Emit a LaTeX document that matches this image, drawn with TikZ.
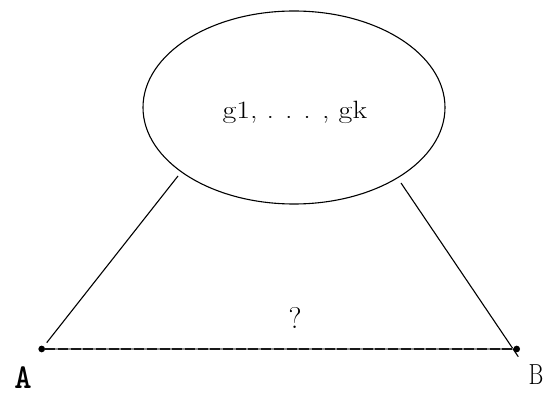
\documentclass[tikz,border=0pt]{standalone}
\usetikzlibrary{shapes.geometric}
\begin{document}
\begin{tikzpicture}[x=1pt,y=-1pt,
  lbl/.style={inner sep=0pt,font=\fontsize{20}{24}\selectfont},
  seg/.style={line width=1.1pt},
  dot/.style={circle,fill=black,inner sep=0pt,minimum size=6.7pt}]
\useasboundingbox (0,0) rectangle (544,395);
\node[draw,ellipse,minimum width=302pt,minimum height=193pt,line width=1.1pt] (E) at (294,107.5) {};
\node[lbl,anchor=base west] (G) at (222.5,118.3) {\scalebox{1.5}[1.25]{g1,\hspace{0.3em}.\hspace{0.36em}.\hspace{0.36em}.\hspace{0.38em},\hspace{0.3em}gk}};
\node[dot] (A) at (41.7,349) {};
\node[dot] (B) at (516.7,349) {};
\coordinate (L1) at (46.7,342.7);
\coordinate (L2) at (178,176);
\coordinate (R1) at (401,183);
\coordinate (R2) at (518.3,356.7);
\draw[seg] (L1) -- (L2);
\draw[seg] (R1) -- (R2);
\draw[line width=1.7pt,black!45] (A) -- (B);
\draw[line width=1.7pt,black!90,dash pattern=on 10pt off 2.7pt] (A) -- (B);
\node[lbl,anchor=base] (LA) at (23,388.5) {\scalebox{1.65}[1.75]{\ttfamily\bfseries A}};
\node[lbl,anchor=base east] (LB) at (543.5,385) {\scalebox{1.13}[1.45]{B}};
\node[lbl,anchor=base] (Q) at (295,329) {\scalebox{1.5}{?}};
\end{tikzpicture}
\end{document}
